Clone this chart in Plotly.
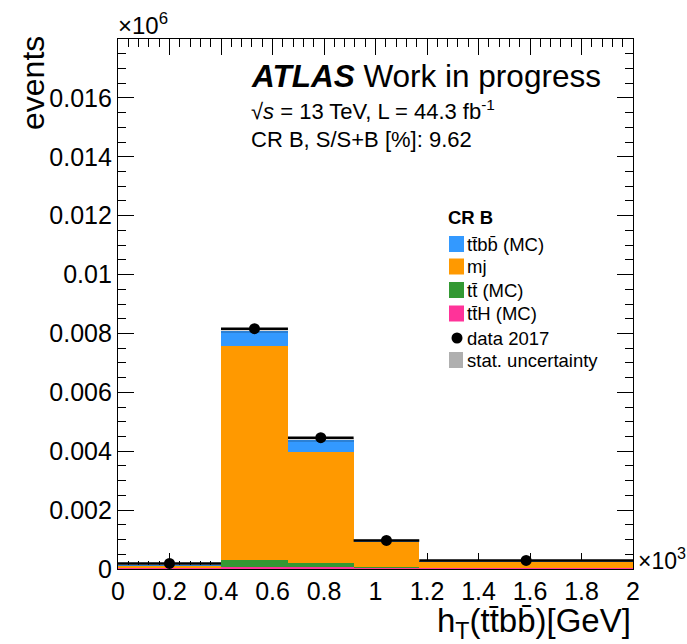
import plotly.graph_objects as go

# ---------------- data (y in units of 10^6 events, x in units of 10^3 GeV) -------------
bin_edges = [0.0, 0.4, 0.66, 0.915, 1.17, 2.0]
tth_mc = [0.00004, 0.00007, 0.00006, 0.00004, 0.00004]
tt_mc = [0.00001, 0.00023, 0.00014, 0.00003, 0.00001]
mj = [0.00008, 0.00726, 0.00378, 0.00085, 0.00021]
ttbb_mc = [0.000005, 0.00054, 0.00040, 0.00008, 0.000005]
data_2017 = [0.00019, 0.00816, 0.00446, 0.00097, 0.00029]
stat_unc = [0.00002, 0.00009, 0.00006, 0.00003, 0.00002]

x_tick_vals = [0, 0.2, 0.4, 0.6, 0.8, 1.0, 1.2, 1.4, 1.6, 1.8, 2.0]
x_tick_labels = ["0", "0.2", "0.4", "0.6", "0.8", "1", "1.2", "1.4", "1.6", "1.8", "2"]
y_tick_vals = [0, 0.002, 0.004, 0.006, 0.008, 0.010, 0.012, 0.014, 0.016]
y_tick_labels = ["0", "0.002", "0.004", "0.006", "0.008", "0.01", "0.012", "0.014", "0.016"]

legend_labels = ["tt\u0304bb\u0304 (MC)", "mj", "tt\u0304 (MC)", "tt\u0304H (MC)", "data 2017", "stat. uncertainty"]

# ---------------- derived -------------
centers = [(a + b) / 2 for a, b in zip(bin_edges[:-1], bin_edges[1:])]
widths = [b - a for a, b in zip(bin_edges[:-1], bin_edges[1:])]
half_widths = [w / 2 for w in widths]

C_BLUE = "rgb(51,153,255)"
C_ORANGE = "rgb(255,153,0)"
C_GREEN = "rgb(51,153,51)"
C_PINK = "rgb(255,51,153)"
FONT = "Liberation Sans, Arial, Helvetica, sans-serif"

W, H = 687, 644
ML, MR, MT, MB = 118, 54, 39, 75
PW, PH = W - ML - MR, H - MT - MB


def px(xp):
    return (xp - ML) / PW


def py(yp):
    return (H - MB - yp) / PH


fig = go.Figure()
base = [0.0] * len(centers)
for vals, col in [(tth_mc, C_PINK), (tt_mc, C_GREEN), (mj, C_ORANGE), (ttbb_mc, C_BLUE)]:
    fig.add_trace(go.Bar(x=centers, y=vals, base=list(base), width=widths,
                         marker=dict(color=col, line=dict(width=0)),
                         showlegend=False, hoverinfo="skip"))
    base = [b + v for b, v in zip(base, vals)]
totals = base

# stat uncertainty band (hatched)
fig.add_trace(go.Bar(
    x=centers, y=[2 * e for e in stat_unc], base=[t - e for t, e in zip(totals, stat_unc)],
    width=widths, marker=dict(color="rgba(255,255,255,0)", line=dict(width=0),
                              pattern=dict(shape=".", fgcolor="rgba(0,0,0,0.75)", size=2, solidity=0.5)),
    showlegend=False, hoverinfo="skip"))

# data
fig.add_trace(go.Scatter(
    x=centers, y=data_2017, mode="markers",
    marker=dict(color="black", size=11),
    error_x=dict(type="data", array=half_widths, color="black", thickness=2.5, width=0),
    showlegend=False, hoverinfo="skip"))

fig.update_layout(
    barmode="overlay",
    width=W, height=H,
    margin=dict(l=ML, r=MR, t=MT, b=MB, pad=0, autoexpand=False),
    plot_bgcolor="white", paper_bgcolor="white",
    font=dict(family=FONT, color="black"),
    bargap=0,
)

axis_common = dict(showline=True, linecolor="black", linewidth=1.2, mirror="ticks", ticks="inside",
                   tickcolor="black", tickwidth=1.2, showgrid=False, zeroline=False, automargin=False,
                   layer="below traces",
                   tickfont=dict(family=FONT, size=25, color="black"))
fig.update_xaxes(range=[0, 2], tickvals=x_tick_vals, ticktext=x_tick_labels, ticklen=16,
                 minor=dict(dtick=0.04, ticklen=8, ticks="inside", tickcolor="black", tickwidth=1.2, showgrid=False),
                 **axis_common)
fig.update_yaxes(range=[0, 0.018], tickvals=y_tick_vals, ticktext=y_tick_labels, ticklen=16,
                 minor=dict(dtick=0.0005, ticklen=8, ticks="inside", tickcolor="black", tickwidth=1.2, showgrid=False),
                 **axis_common)

ann = []


def add_text(text, xp, yp, size, xanchor="left", yanchor="middle", angle=0):
    ann.append(dict(text=text, x=px(xp), y=py(yp), xref="paper", yref="paper", showarrow=False,
                    xanchor=xanchor, yanchor=yanchor, textangle=angle,
                    font=dict(family=FONT, size=size, color="black")))


add_text("\u00d710<sup>6</sup>", 116, 24, 24)
add_text("\u00d710<sup>3</sup>", 636, 559, 23)
add_text("events", 33, 34, 32, xanchor="center", yanchor="top", angle=-90)
add_text("h<sub>T</sub>(tt\u0304bb\u0304)[GeV]", 633, 623, 33, xanchor="right")
add_text("<b><i>ATLAS</i></b> Work in progress", 249, 76, 31.5)
add_text("\u221a<i>s</i> = 13 TeV, L = 44.3 fb<sup>-1</sup>", 249, 110, 22)
add_text("CR B, S/S+B [%]: 9.62", 249, 140, 22)

# legend
add_text("<b>CR B</b>", 446, 217, 18.5)
row_y = [244, 266.5, 290, 313.5, 338, 360]
swatch_cols = [C_BLUE, C_ORANGE, C_GREEN, C_PINK]
shapes = []
for i, lab in enumerate(legend_labels):
    add_text(lab, 465, row_y[i], 18.5)
for i, col in enumerate(swatch_cols):
    shapes.append(dict(type="rect", xref="paper", yref="paper", x0=px(449), x1=px(464),
                       y0=py(row_y[i] + 8), y1=py(row_y[i] - 8), fillcolor=col, line=dict(width=0)))
shapes.append(dict(type="circle", xref="paper", yref="paper", x0=px(451.5), x1=px(462.5),
                   y0=py(row_y[4] + 5.5), y1=py(row_y[4] - 5.5), fillcolor="black", line=dict(width=0)))
shapes.append(dict(type="rect", xref="paper", yref="paper", x0=px(449), x1=px(463),
                   y0=py(row_y[5] + 8), y1=py(row_y[5] - 8), fillcolor="rgb(175,175,175)", line=dict(width=0)))

fig.update_layout(annotations=ann, shapes=shapes)
fig.write_html("out.html", config={"displayModeBar": False},
               post_script="document.body.style.margin='0';document.body.style.overflow='hidden';")
